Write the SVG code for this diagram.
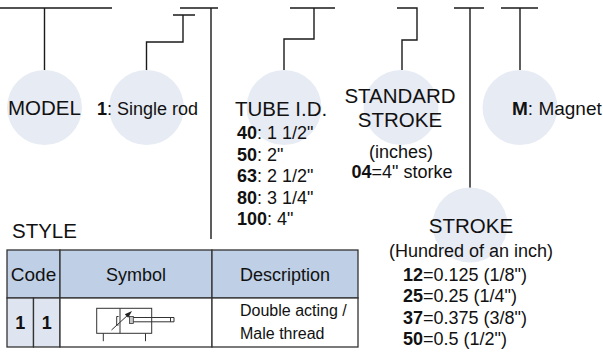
<svg xmlns="http://www.w3.org/2000/svg" width="603" height="352" viewBox="0 0 603 352">
<style>
.bg{fill:#ffffff}
.c{fill:#e7ebf4}
.ln{fill:none;stroke:#1a1a1a;stroke-width:1.4}
.t{font-family:"Liberation Sans",Arial,sans-serif;fill:#111}
.lb{font-size:20.5px}
.s{font-size:18px}
.d{font-size:16px}
.b{font-weight:bold}
.m{text-anchor:middle}
.hd{fill:#bfcfe5;stroke:#333;stroke-width:1.3}
.cd{fill:#dfe5f0;stroke:#333;stroke-width:1.3}
.wc{fill:#ffffff;stroke:#333;stroke-width:1.3}
.sy{fill:none;stroke:#333;stroke-width:1}
</style>
<rect class="bg" x="0" y="0" width="603" height="352"/>
<g id="connectors">
<path class="ln" d="M0 8H112M44.5 8V70"/>
<path class="ln" d="M146.5 70V42H183V15M173 15H195"/>
<path class="ln" d="M180 8H218M211 8V239"/>
<path class="ln" d="M290 8H335M314 8V39H284V70"/>
<path class="ln" d="M397 8H417V40H402V70"/>
<path class="ln" d="M454 8H484M470 8V188"/>
<path class="ln" d="M501 8H538M520 8V70"/>
</g>
<g id="model">
<circle class="c" cx="44.5" cy="107.5" r="37.5"/>
<text class="t lb" x="8" y="115">MODEL</text>
</g>
<g id="rod">
<circle class="c" cx="146.5" cy="107.5" r="37.5"/>
<text class="t s" x="97" y="115"><tspan class="b">1</tspan>: Single rod</text>
</g>
<g id="tube">
<circle class="c" cx="284" cy="107.5" r="37.5"/>
<text class="t lb" x="235" y="116">TUBE I.D.</text>
<text class="t s" x="237" y="139"><tspan class="b">40</tspan>: 1 1/2"</text>
<text class="t s" x="237" y="161"><tspan class="b">50</tspan>: 2"</text>
<text class="t s" x="237" y="182"><tspan class="b">63</tspan>: 2 1/2"</text>
<text class="t s" x="237" y="204"><tspan class="b">80</tspan>: 3 1/4"</text>
<text class="t s" x="237" y="225"><tspan class="b">100</tspan>: 4"</text>
</g>
<g id="standard">
<circle class="c" cx="401" cy="107.5" r="37.5"/>
<text class="t lb m" x="400" y="103">STANDARD</text>
<text class="t lb m" x="400" y="127">STROKE</text>
<text class="t s m" x="401" y="158">(inches)</text>
<text class="t s m" x="402" y="178"><tspan class="b">04</tspan>=4" storke</text>
</g>
<g id="stroke">
<circle class="c" cx="470" cy="225" r="37.5"/>
<text class="t lb m" x="471" y="233">STROKE</text>
<text class="t s m" x="471" y="257">(Hundred of an inch)</text>
<text class="t s" x="403" y="281"><tspan class="b">12</tspan>=0.125 (1/8")</text>
<text class="t s" x="403" y="302"><tspan class="b">25</tspan>=0.25 (1/4")</text>
<text class="t s" x="403" y="324"><tspan class="b">37</tspan>=0.375 (3/8")</text>
<text class="t s" x="403" y="345"><tspan class="b">50</tspan>=0.5 (1/2")</text>
</g>
<g id="magnet">
<circle class="c" cx="520" cy="107.5" r="37.5"/>
<text class="t" style="font-size:19px" x="512" y="115"><tspan class="b">M</tspan>: Magnet</text>
</g>
<g id="style">
<text class="t lb" x="12" y="238">STYLE</text>
<rect class="hd" x="7" y="250" width="53" height="48"/>
<rect class="hd" x="60" y="250" width="152" height="48"/>
<rect class="hd" x="212" y="250" width="146" height="48"/>
<rect class="cd" x="7" y="298" width="26.5" height="49"/>
<rect class="cd" x="33.5" y="298" width="26.5" height="49"/>
<rect class="wc" x="60" y="298" width="152" height="49"/>
<rect class="wc" x="212" y="298" width="146" height="49"/>
<text class="t m" style="font-size:19px" x="33.5" y="281">Code</text>
<text class="t s m" x="136" y="281">Symbol</text>
<text class="t s m" x="285" y="281">Description</text>
<text class="t s b m" x="20.3" y="329">1</text>
<text class="t s b m" x="46.8" y="329">1</text>
<text class="t d" x="240" y="316">Double acting /</text>
<text class="t d" x="240" y="339">Male thread</text>
<g id="symbol">
<rect class="sy" x="96.7" y="308.3" width="55" height="25"/>
<path class="sy" d="M120 308.3V333.3M118.6 316.5H116.7V325H118.6M103.3 333.3V341.2M145.5 333.3V341.2"/>
<rect x="129.5" y="316.5" width="3.8" height="7" fill="#c8c8c8" stroke="#333" stroke-width="0.8"/>
<path class="sy" d="M133.3 317.5H174V321.8H133.3M170.5 317.5V321.8"/>
<path class="sy" d="M111.5 330L128.5 314.5"/>
<path d="M132 311L124.8 314.2L128.2 317.8Z" fill="#222"/>
</g>
</g>
</svg>
